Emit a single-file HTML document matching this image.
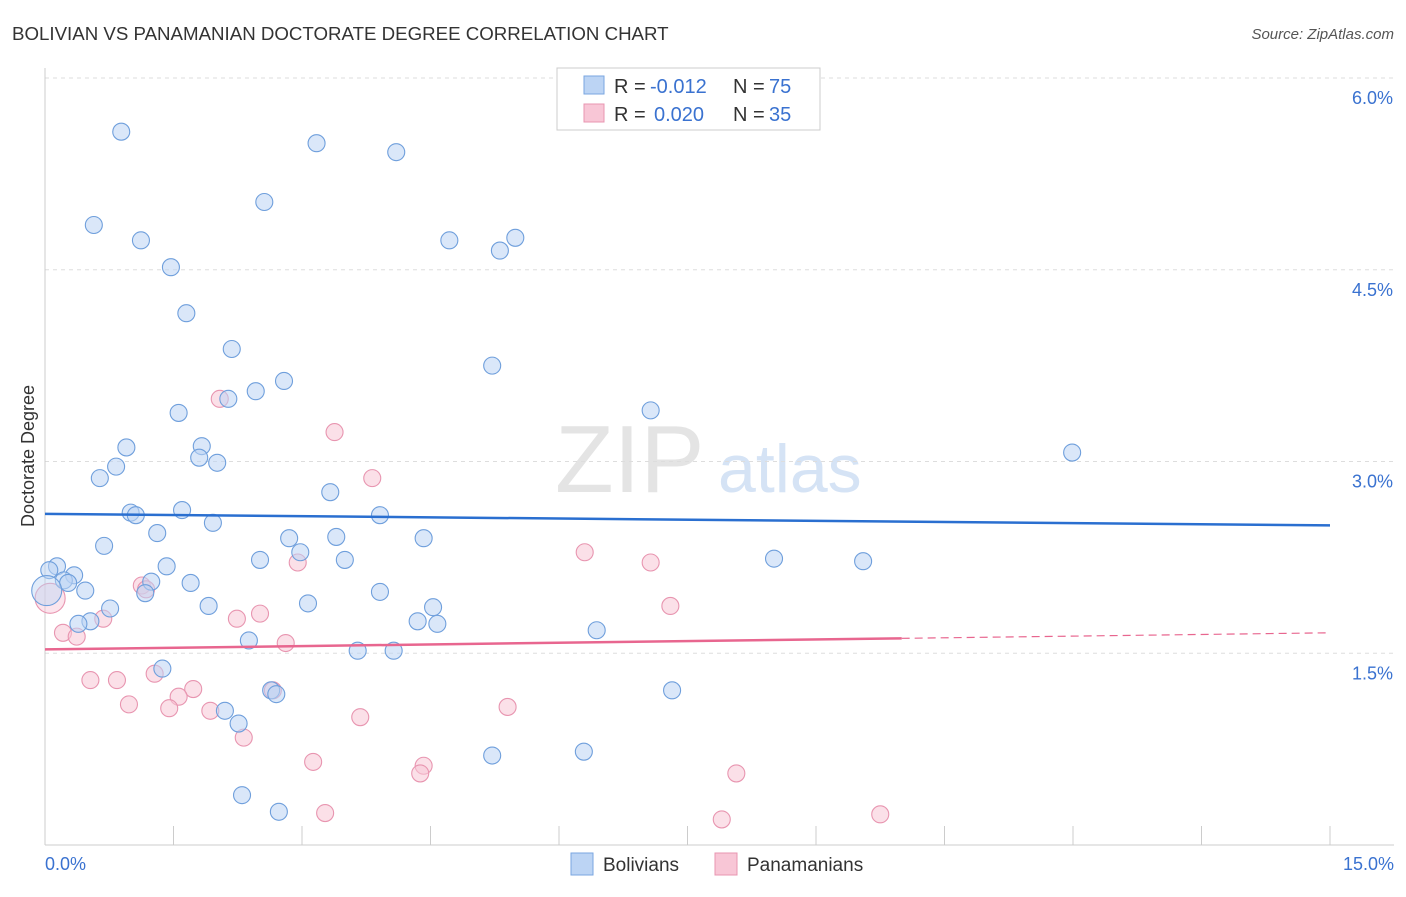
<!DOCTYPE html>
<html><head><meta charset="utf-8"><style>
body{margin:0;background:#fff;font-family:"Liberation Sans",sans-serif}
svg text{font-family:"Liberation Sans",sans-serif}
</style></head><body>
<svg id="c" width="1406" height="892">
<text x="12" y="40" font-size="18.7" fill="#333">BOLIVIAN VS PANAMANIAN DOCTORATE DEGREE CORRELATION CHART</text>
<text x="1394" y="39" font-size="15" fill="#555" font-style="italic" text-anchor="end">Source: ZipAtlas.com</text>
<text x="34" y="456" font-size="18" fill="#333" transform="rotate(-90 34 456)" text-anchor="middle">Doctorate Degree</text>
<text x="555" y="492" font-size="96" fill="#e4e4e4" font-family="Liberation Serif">ZIP</text>
<text x="718" y="492" font-size="68" fill="#d5e3f5">atlas</text>
<g id="grid"></g><g id="marks"></g>
<g>
<rect x="557" y="68" width="263" height="62" fill="#fff" stroke="#ccc"/>
<rect x="584" y="76" width="20" height="18" fill="#bcd4f4" stroke="#7aa6e0"/>
<rect x="584" y="104" width="20" height="18" fill="#f8c6d6" stroke="#e895b0"/>
<text x="614" y="93" font-size="20" fill="#333">R =</text>
<text x="650" y="93" font-size="20" fill="#3a72d0">-0.012</text>
<text x="733" y="93" font-size="20" fill="#333">N =</text>
<text x="769" y="93" font-size="20" fill="#3a72d0">75</text>
<text x="614" y="121" font-size="20" fill="#333">R =</text>
<text x="654" y="121" font-size="20" fill="#3a72d0">0.020</text>
<text x="733" y="121" font-size="20" fill="#333">N =</text>
<text x="769" y="121" font-size="20" fill="#3a72d0">35</text>
</g>
<g>
<rect x="571" y="853" width="22" height="22" fill="#bcd4f4" stroke="#7aa6e0"/>
<text x="603" y="871" font-size="19" fill="#333">Bolivians</text>
<rect x="715" y="853" width="22" height="22" fill="#f8c6d6" stroke="#e895b0"/>
<text x="747" y="871" font-size="19" fill="#333">Panamanians</text>
</g>
</svg>
<script>
const yTicks=[1.5,3.0,4.5,6.0];
const yTickLabels=["1.5%","3.0%","4.5%","6.0%"];
const xTickLabels=["0.0%","15.0%"];
const blueX=[0.89,3.17,4.10,2.56,0.57,1.12,4.72,5.49,5.31,1.47,1.65,2.18,5.22,2.79,2.46,2.14,1.56,7.07,0.95,1.83,1.80,0.83,2.01,0.64,11.99,3.33,1.00,1.06,1.60,3.91,1.96,1.31,2.85,3.40,4.42,0.69,2.98,2.51,3.50,8.51,9.55,0.14,0.05,1.42,0.34,0.22,0.27,1.24,1.70,1.17,0.47,3.91,0.76,1.91,3.07,4.53,4.35,4.58,0.53,0.39,6.44,2.38,3.65,4.07,1.37,2.64,2.70,7.32,2.10,2.26,6.29,5.22,2.30,2.73,0.02];
const blueY=[5.58,5.49,5.42,5.03,4.85,4.73,4.73,4.75,4.65,4.52,4.16,3.88,3.75,3.63,3.55,3.49,3.38,3.40,3.11,3.12,3.03,2.96,2.99,2.87,3.07,2.76,2.60,2.58,2.62,2.58,2.52,2.44,2.40,2.41,2.40,2.34,2.29,2.23,2.23,2.24,2.22,2.18,2.15,2.18,2.11,2.07,2.05,2.06,2.05,1.97,1.99,1.98,1.85,1.87,1.89,1.86,1.75,1.73,1.75,1.73,1.68,1.60,1.52,1.52,1.38,1.21,1.18,1.21,1.05,0.95,0.73,0.70,0.39,0.26,1.99];
const pinkX=[7.58,2.04,3.38,3.82,6.30,7.07,2.95,1.13,1.18,2.51,2.24,7.30,0.68,0.21,0.37,2.81,1.28,0.53,0.84,1.73,1.56,2.66,0.98,1.45,1.93,5.40,3.68,2.32,3.13,4.42,4.38,8.07,3.27,7.90,9.75,0.06];
const pinkY=[5.66,3.49,3.23,2.87,2.29,2.21,2.21,2.03,2.00,1.81,1.77,1.87,1.77,1.66,1.63,1.58,1.34,1.29,1.29,1.22,1.16,1.21,1.10,1.07,1.05,1.08,1.00,0.84,0.65,0.62,0.56,0.56,0.25,0.20,0.24,1.93];
const trendBlue=[2.59,2.50];
const trendPink=[1.53,1.66];
const X=v=>45+v/15*1285, Y=v=>845-v/6*767;
const NS="http://www.w3.org/2000/svg";
function mk(t,a,p){const e=document.createElementNS(NS,t);for(const k in a)e.setAttribute(k,a[k]);p.appendChild(e);return e;}
const g=document.getElementById('grid'),m=document.getElementById('marks');
yTicks.forEach((t,i)=>{const l=mk('line',{x1:45,x2:1394,y1:Y(t),y2:Y(t),stroke:'#ddd','stroke-dasharray':'4,4'},g);

const tx=mk('text',{x:1393,y:Y(t)+26,'font-size':18,fill:'#3a72d0','text-anchor':'end'},g);tx.textContent=yTickLabels[i];
});
const ax=mk('line',{x1:45,x2:45,y1:68,y2:845,stroke:'#ccc'},g);
const bx=mk('line',{x1:45,x2:1394,y1:845,y2:845,stroke:'#ccc'},g);
for(let i=0;i<=10;i++){const t=mk('line',{x1:X(i*1.5),x2:X(i*1.5),y1:826,y2:845,stroke:'#ccc'},g);}
[[0,'start',45],[15,'end',1394]].forEach((d,i)=>{const t=mk('text',{x:d[2],y:870,'font-size':18,fill:'#3a72d0','text-anchor':d[1]},g);t.textContent=xTickLabels[i];
});
function pts(xs,ys,fill,stroke,name){xs.forEach((x,i)=>{const big=i==xs.length-1;
const c=mk('circle',{cx:X(x),cy:Y(ys[i]),r:big?15:8.5,fill:fill,'fill-opacity':big?0.45:0.55,stroke:stroke,'stroke-width':1.1},m);
});}
pts(pinkX,pinkY,'#f8c6d6','#e895b0','panamanian-point');
pts(blueX,blueY,'#bcd4f4','#6f9fdc','bolivian-point');
const tb=mk('line',{x1:X(0),x2:X(15),y1:Y(trendBlue[0]),y2:Y(trendBlue[1]),stroke:'#2a6fd0','stroke-width':2.5},m);

const pe=v=>trendPink[0]+(trendPink[1]-trendPink[0])*v/15;
const tp=mk('line',{x1:X(0),x2:X(10),y1:Y(pe(0)),y2:Y(pe(10)),stroke:'#e8668f','stroke-width':2.5},m);

const td=mk('line',{x1:X(10),x2:X(15),y1:Y(pe(10)),y2:Y(pe(15)),stroke:'#e8668f','stroke-width':1.2,'stroke-dasharray':'8,5'},m);

</script>
</body></html>
